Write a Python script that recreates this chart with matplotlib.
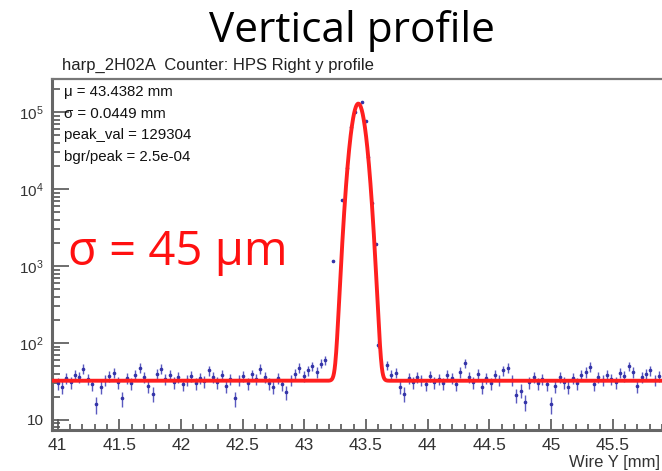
import numpy as np
import matplotlib
matplotlib.use("Agg")
import matplotlib.pyplot as plt
from matplotlib.ticker import LogLocator, MultipleLocator, FixedLocator, FixedFormatter, NullFormatter

# wire position (mm) and counts
wire_y = [41.000, 41.035, 41.070, 41.105, 41.140, 41.175, 41.210, 41.245, 41.280, 41.315,
          41.350, 41.385, 41.420, 41.455, 41.490, 41.525, 41.560, 41.595, 41.630, 41.665,
          41.700, 41.735, 41.770, 41.805, 41.840, 41.875, 41.910, 41.945, 41.980, 42.015,
          42.050, 42.085, 42.120, 42.155, 42.190, 42.225, 42.260, 42.295, 42.330, 42.365,
          42.400, 42.435, 42.470, 42.505, 42.540, 42.575, 42.610, 42.645, 42.680, 42.715,
          42.750, 42.785, 42.820, 42.855, 42.890, 42.925, 42.960, 42.995, 43.030, 43.065,
          43.100, 43.135, 43.170,
          43.233, 43.303, 43.344, 43.376, 43.411, 43.465, 43.500, 43.519, 43.546, 43.581, 43.600,
          43.670, 43.705, 43.740, 43.775, 43.810, 43.845, 43.880, 43.915, 43.950, 43.985,
          44.020, 44.055, 44.090, 44.125, 44.160, 44.195, 44.230, 44.265, 44.300, 44.335,
          44.370, 44.405, 44.440, 44.475, 44.510, 44.545, 44.580, 44.615, 44.650, 44.685,
          44.720, 44.755, 44.790, 44.825, 44.860, 44.895, 44.930, 44.965, 45.000, 45.035,
          45.070, 45.105, 45.140, 45.175, 45.210, 45.245, 45.280, 45.315, 45.350, 45.385,
          45.420, 45.455, 45.490, 45.525, 45.560, 45.595, 45.630, 45.665, 45.700, 45.735,
          45.770, 45.805, 45.840, 45.875]
counts = [30, 27, 35, 31, 38, 36, 46, 34, 29, 16,
          27, 33, 37, 41, 31, 19, 35, 30, 38, 48,
          36, 28, 22, 40, 46, 34, 38, 31, 36, 29,
          33, 37, 30, 35, 32, 44, 36, 31, 38, 28,
          34, 19, 33, 37, 30, 39, 34, 46, 36, 30,
          27, 35, 29, 23, 33, 40, 48, 37, 44, 50,
          42, 54, 60,
          1160, 7300, 18600, 64000, 100000, 136000, 77000, 26000, 6700, 1950, 95,
          52, 38, 41, 27, 22, 35, 31, 36, 33, 29,
          37, 31, 34, 30, 38, 35, 29, 42, 55, 36,
          31, 40, 27, 35, 30, 38, 33, 44, 48, 33,
          21, 24, 17, 31, 36, 30, 34, 29, 16, 28,
          36, 31, 27, 35, 30, 38, 42, 49, 29, 36,
          33, 38, 34, 31, 41, 37, 50, 42, 28, 36,
          40, 44, 33, 37]

# fit results from the stats box
mu = 43.4382
sigma = 0.0449
peak_val = 129304
bgr_peak = 2.5e-4

stats_lines = ["\u03bc = 43.4382 mm", "\u03c3 = 0.0449 mm", "peak_val = 129304", "bgr/peak = 2.5e-04"]
x_ticks = [41, 41.5, 42, 42.5, 43, 43.5, 44, 44.5, 45, 45.5]
x_labels = ["41", "41.5", "42", "42.5", "43", "43.5", "44", "44.5", "45", "45.5"]
y_ticks = [10, 1e2, 1e3, 1e4, 1e5]
y_labels = ["10", "$10^{2}$", "$10^{3}$", "$10^{4}$", "$10^{5}$"]

plt.rcParams["font.family"] = ["Liberation Sans", "DejaVu Sans"]
plt.rcParams["mathtext.fontset"] = "custom"
plt.rcParams["mathtext.rm"] = "Liberation Sans"
plt.rcParams["mathtext.it"] = "Liberation Sans"

fig = plt.figure(figsize=(6.62, 4.71), dpi=100)
ax_l, ax_b, ax_w, ax_h = 52, 41, 610, 351   # pixels
ax = fig.add_axes([ax_l / 662, ax_b / 471, ax_w / 662, ax_h / 471])

x = np.array(wire_y)
y = np.array(counts, dtype=float)
ax.errorbar(x, y, yerr=np.sqrt(y), xerr=0.008, fmt="o", ms=1.6, color="#3434a8",
            ecolor="#5a5ac0", elinewidth=1.0, capsize=0, zorder=2)

xf = np.linspace(40.95, 45.95, 2000)
fit = peak_val * bgr_peak + peak_val * np.exp(-(xf - mu) ** 2 / (2 * sigma ** 2))
ax.plot(xf, fit, color="#ff1f1f", lw=2.8, zorder=3)

ax.set_yscale("log")
ax.set_xlim(40.955, 45.9)
ax.set_ylim(7.4, 2.7e5)

ax.xaxis.set_major_locator(FixedLocator(x_ticks))
ax.xaxis.set_major_formatter(FixedFormatter(x_labels))
ax.xaxis.set_minor_locator(MultipleLocator(0.1))
ax.yaxis.set_major_locator(FixedLocator(y_ticks))
ax.yaxis.set_major_formatter(FixedFormatter(y_labels))
ax.yaxis.set_minor_locator(LogLocator(base=10, subs=np.arange(2, 10), numticks=20))
ax.yaxis.set_minor_formatter(NullFormatter())

ax.tick_params(axis="x", which="major", direction="in", length=8, width=1.2,
               color="#555555", labelsize=12.5, labelcolor="#333333", pad=6)
ax.tick_params(axis="x", which="minor", direction="in", length=4, width=1.2, color="#555555")
ax.tick_params(axis="y", which="major", direction="in", length=12, width=1.2,
               color="#555555", labelsize=11, labelcolor="#333333", pad=6)
ax.tick_params(axis="y", which="minor", direction="in", length=6, width=1.2, color="#555555")

for side in ["left", "bottom"]:
    ax.spines[side].set_linewidth(2.2)
    ax.spines[side].set_color("#666666")
ax.spines["top"].set_linewidth(1.6)
ax.spines["top"].set_color("#777777")
ax.spines["right"].set_visible(False)

# stats box text (positions in pixels, converted to axes fractions)
top_px = 471 - ax_b - ax_h
for i, line in enumerate(stats_lines):
    ax.text((64 - ax_l) / ax_w, 1 - (92 + i * 21.5 - top_px) / ax_h, line,
            transform=ax.transAxes, fontsize=10.8, va="center", ha="left",
            color="#111111", family=["Liberation Sans Narrow", "Liberation Sans", "DejaVu Sans"])

ax.text((68 - ax_l) / ax_w, 1 - (252 - top_px) / ax_h, "\u03c3 = 45 \u00b5m", transform=ax.transAxes,
        fontsize=34, color="#ff1010", va="center", ha="left",
        family=["Open Sans", "Lato", "DejaVu Sans"])

fig.text(352 / 662, 1 - 42 / 471, "Vertical profile", fontsize=30.5, ha="center",
         va="baseline", color="black", family=["Open Sans", "Lato", "DejaVu Sans"])
fig.text(62 / 662, 1 - 70 / 471, "harp_2H02A  Counter: HPS Right y profile", fontsize=12,
         ha="left", va="baseline", color="#222222",
         family=["Liberation Sans Narrow", "Liberation Sans", "DejaVu Sans"])
fig.text(660 / 662, 1 - 467 / 471, "Wire Y [mm]", fontsize=12, ha="right", va="baseline",
         color="#333333")

fig.savefig("out.png", dpi=100)
